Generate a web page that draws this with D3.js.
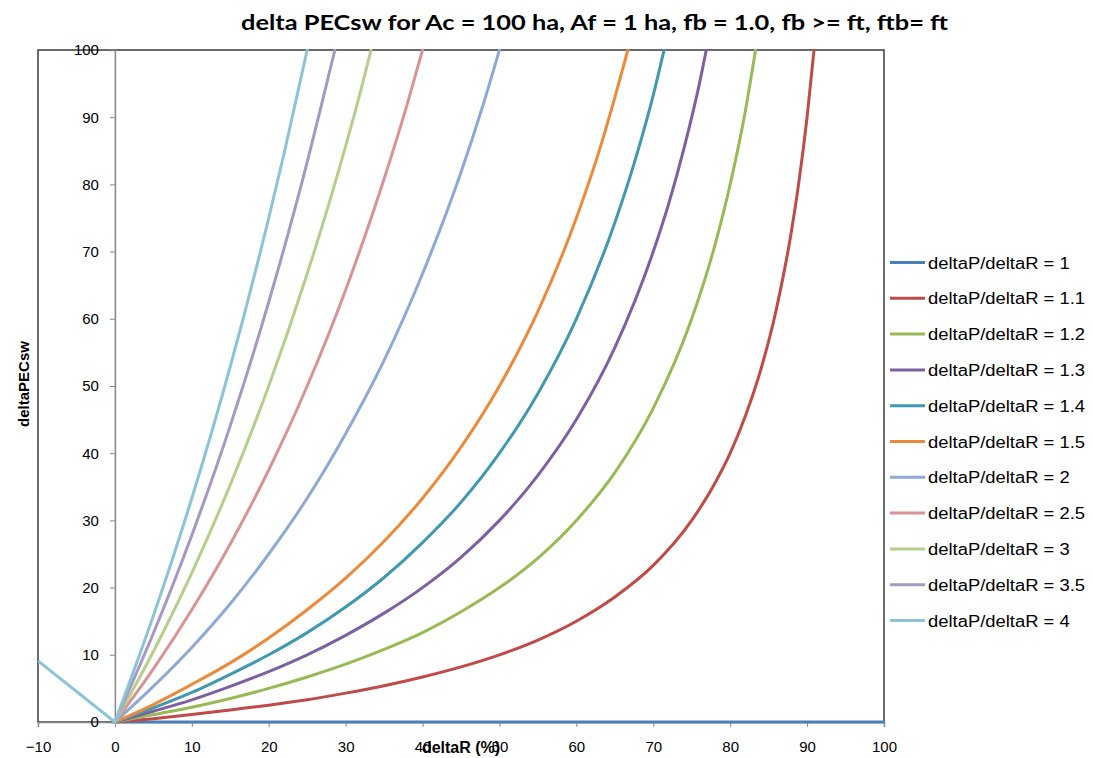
<!DOCTYPE html>
<html>
<head>
<meta charset="utf-8">
<script src="https://cdn.jsdelivr.net/npm/d3@7"></script>
<style>
  html, body { margin: 0; padding: 0; background: #fff; }
  svg { display: block; }
</style>
</head>
<body>
<svg id="chart" width="1093" height="758"></svg>
<script>
// ---- data ----
const chartTitle = "delta PECsw for Ac = 100 ha, Af = 1 ha, fb = 1.0, fb >= ft, ftb= ft";
const xTitle = "deltaR (%)";
const yTitle = "deltaPECsw";
const xTicks = [-10, 0, 10, 20, 30, 40, 50, 60, 70, 80, 90, 100];
const yTicks = [0, 10, 20, 30, 40, 50, 60, 70, 80, 90, 100];
const seriesLabels = ["deltaP/deltaR = 1", "deltaP/deltaR = 1.1", "deltaP/deltaR = 1.2",
  "deltaP/deltaR = 1.3", "deltaP/deltaR = 1.4", "deltaP/deltaR = 1.5", "deltaP/deltaR = 2",
  "deltaP/deltaR = 2.5", "deltaP/deltaR = 3", "deltaP/deltaR = 3.5", "deltaP/deltaR = 4"];
const seriesColors = ["#4A7EBB", "#BE4B48", "#98B954", "#7D60A0", "#4198AF", "#EC8A3C",
  "#8EA9D4", "#D69594", "#B5CE8D", "#A797C3", "#8DC3D6"];

const x_r1 = [0, 100];
const y_r1 = [0, 0];
const x_r1_1 = [0, 5, 10, 15, 20, 25, 30, 35, 40, 45, 50, 55, 60, 65, 70, 75, 78, 80, 82, 84, 86, 88, 89, 90, 91];
const y_r1_1 = [0, 0.5, 1.1, 1.8, 2.5, 3.3, 4.3, 5.4, 6.7, 8.2, 10.0, 12.2, 15.0, 18.6, 23.3, 30.0, 35.5, 40.0, 45.6, 52.5, 61.4, 73.3, 80.9, 90.0, 101.1];
const x_r1_2 = [0, 5, 10, 15, 20, 25, 30, 35, 40, 45, 50, 55, 60, 65, 70, 75, 78, 80, 82, 83.3];
const y_r1_2 = [0, 1.1, 2.2, 3.5, 5.0, 6.7, 8.6, 10.8, 13.3, 16.4, 20.0, 24.4, 30.0, 37.1, 46.7, 60.0, 70.9, 80.0, 91.1, 100];
const x_r1_3 = [0, 5, 10, 15, 20, 25, 30, 35, 40, 45, 50, 55, 60, 65, 70, 72, 74, 76, 76.9];
const y_r1_3 = [0, 1.6, 3.3, 5.3, 7.5, 10.0, 12.9, 16.2, 20.0, 24.5, 30.0, 36.7, 45.0, 55.7, 70.0, 77.1, 85.4, 95.0, 100];
const x_r1_4 = [0, 5, 10, 15, 20, 25, 30, 35, 40, 45, 50, 55, 60, 65, 68, 70, 71.4];
const y_r1_4 = [0, 2.1, 4.4, 7.1, 10.0, 13.3, 17.1, 21.5, 26.7, 32.7, 40.0, 48.9, 60.0, 74.3, 85.0, 93.3, 100];
const x_r1_5 = [0, 5, 10, 15, 20, 25, 30, 35, 40, 45, 50, 55, 60, 63, 65, 66.7];
const y_r1_5 = [0, 2.6, 5.6, 8.8, 12.5, 16.7, 21.4, 26.9, 33.3, 40.9, 50.0, 61.1, 75.0, 85.1, 92.9, 100];
const x_r2 = [0, 5, 10, 15, 20, 25, 30, 35, 40, 45, 48, 50];
const y_r2 = [0, 5.3, 11.1, 17.6, 25.0, 33.3, 42.9, 53.8, 66.7, 81.8, 92.3, 100];
const x_r2_5 = [0, 5, 10, 15, 20, 25, 30, 35, 38, 40];
const y_r2_5 = [0, 7.9, 16.7, 26.5, 37.5, 50.0, 64.3, 80.8, 91.9, 100];
const x_r3 = [0, 5, 10, 15, 20, 25, 30, 32, 33.3];
const y_r3 = [0, 10.5, 22.2, 35.3, 50.0, 66.7, 85.7, 94.1, 100];
const x_r3_5 = [0, 5, 10, 15, 20, 25, 27, 28.6];
const y_r3_5 = [0, 13.2, 27.8, 44.1, 62.5, 83.3, 92.5, 100];
const x_r4 = [-10, 0, 5, 10, 15, 20, 22, 25];
const y_r4 = [9.1, 0, 15.8, 33.3, 52.9, 75.0, 84.6, 100];

const seriesX = [x_r1, x_r1_1, x_r1_2, x_r1_3, x_r1_4, x_r1_5, x_r2, x_r2_5, x_r3, x_r3_5, x_r4];
const seriesY = [y_r1, y_r1_1, y_r1_2, y_r1_3, y_r1_4, y_r1_5, y_r2, y_r2_5, y_r3, y_r3_5, y_r4];

// ---- layout ----
const svg = d3.select("#chart");
const plot = { left: 38, right: 884, top: 50, bottom: 722 };
const x = d3.scaleLinear().domain([-10, 100]).range([plot.left, plot.right]);
const y = d3.scaleLinear().domain([0, 100]).range([plot.bottom, plot.top]);
const FONT = "'Liberation Sans', Arial, sans-serif";

svg.append("rect").attr("width", 1093).attr("height", 758).attr("fill", "#fff");

// plot border
svg.append("rect")
  .attr("x", plot.left).attr("y", plot.top)
  .attr("width", plot.right - plot.left).attr("height", plot.bottom - plot.top)
  .attr("fill", "none").attr("stroke", "#3a3a3a").attr("stroke-width", 1.5);

// x axis (at y = 0)
const xAxis = d3.axisBottom(x).tickValues(xTicks).tickSize(5).tickPadding(14)
  .tickFormat(d3.format("d"));
const gx = svg.append("g").attr("transform", `translate(0,${y(0)})`).call(xAxis);
gx.select(".domain").attr("stroke", "#868686").attr("stroke-width", 1.5);
gx.selectAll(".tick line").attr("stroke", "#868686").attr("stroke-width", 1);
gx.selectAll(".tick text").attr("font-family", FONT).attr("font-size", 15).attr("fill", "#000");

// y axis (at x = 0)
const yAxis = d3.axisLeft(y).tickValues(yTicks).tickSize(5).tickPadding(11)
  .tickFormat(d3.format("d"));
const gy = svg.append("g").attr("transform", `translate(${x(0)},0)`).call(yAxis);
gy.select(".domain").attr("stroke", "#868686").attr("stroke-width", 1.5);
gy.selectAll(".tick line").attr("stroke", "#868686").attr("stroke-width", 1);
gy.selectAll(".tick text").attr("font-family", FONT).attr("font-size", 15).attr("fill", "#000");

// clip
svg.append("clipPath").attr("id", "clip").append("rect")
  .attr("x", plot.left).attr("y", plot.top - 1)
  .attr("width", plot.right - plot.left).attr("height", plot.bottom - plot.top + 3);

const line = d3.line().x(d => x(d[0])).y(d => y(d[1])).curve(d3.curveMonotoneX);
const lineLin = d3.line().x(d => x(d[0])).y(d => y(d[1]));
const gLines = svg.append("g").attr("clip-path", "url(#clip)");

seriesX.forEach((xs, i) => {
  const pts = xs.map((v, j) => [v, seriesY[i][j]]);
  const neg = pts.filter(p => p[0] <= 0);
  const pos = pts.filter(p => p[0] >= 0);
  if (neg.length > 1) {
    gLines.append("path").attr("d", lineLin(neg)).attr("fill", "none")
      .attr("stroke", seriesColors[i]).attr("stroke-width", 3).attr("stroke-linejoin", "round");
  }
  gLines.append("path").attr("d", line(pos)).attr("fill", "none")
    .attr("stroke", seriesColors[i]).attr("stroke-width", 3)
    .attr("stroke-linejoin", "round").attr("stroke-linecap", "round");
});

// legend
const legY0 = 262.5, legDy = 35.8;
const leg = svg.append("g");
seriesLabels.forEach((lab, i) => {
  const yy = legY0 + i * legDy;
  leg.append("line").attr("x1", 890).attr("x2", 925).attr("y1", yy).attr("y2", yy)
    .attr("stroke", seriesColors[i]).attr("stroke-width", 3);
  const t = leg.append("text").attr("x", 928).attr("y", yy + 6)
    .attr("font-family", FONT).attr("font-size", 16).attr("fill", "#000").text(lab);
  const w = t.node().getComputedTextLength();
  t.attr("textLength", w * 1.15).attr("lengthAdjust", "spacingAndGlyphs");
});

// titles
svg.append("text").attr("x", 594.5).attr("y", 30).attr("text-anchor", "middle")
  .attr("font-family", "Lato, 'Open Sans', sans-serif").attr("font-weight", "bold")
  .attr("font-size", 21).attr("textLength", 707).attr("lengthAdjust", "spacingAndGlyphs")
  .text(chartTitle);

svg.append("text").attr("x", 461).attr("y", 753).attr("text-anchor", "middle")
  .attr("font-family", FONT).attr("font-weight", "bold").attr("font-size", 16)
  .text(xTitle);

svg.append("text").attr("transform", "translate(29,384) rotate(-90)")
  .attr("text-anchor", "middle")
  .attr("font-family", FONT).attr("font-weight", "bold").attr("font-size", 15)
  .text(yTitle);
</script>
</body>
</html>
